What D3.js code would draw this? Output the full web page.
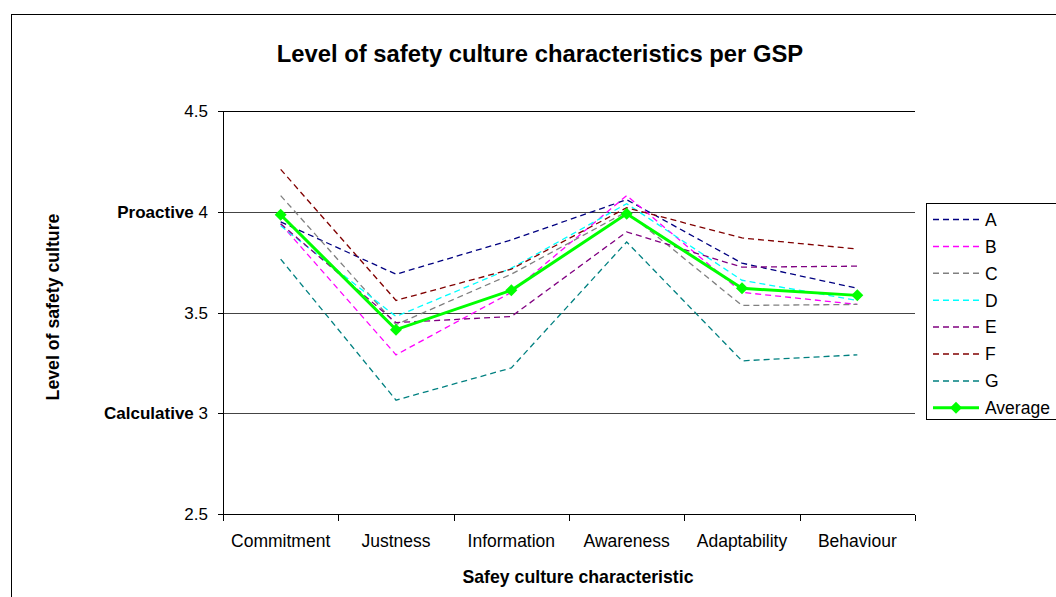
<!DOCTYPE html>
<html>
<head>
<meta charset="utf-8">
<script src="https://cdn.jsdelivr.net/npm/d3@7"></script>
<style>
  html, body { margin: 0; padding: 0; background: #fff; }
  svg { display: block; font-family: "Liberation Sans", Arial, sans-serif; }
</style>
</head>
<body>
<svg id="chart" width="1056" height="597"></svg>
<script>
// ---- Data ----
const categories = ["Commitment", "Justness", "Information", "Awareness", "Adaptability", "Behaviour"];
const seriesNames = ["A", "B", "C", "D", "E", "F", "G"];
const A = [3.95, 3.69, 3.86, 4.06, 3.745, 3.62];
const B = [3.94, 3.29, 3.60, 4.08, 3.60, 3.54];
const C = [4.08, 3.44, 3.69, 4.00, 3.535, 3.54];
const D = [3.93, 3.48, 3.72, 4.04, 3.66, 3.56];
const E = [3.94, 3.45, 3.48, 3.90, 3.725, 3.73];
const F = [4.21, 3.56, 3.715, 4.02, 3.87, 3.815];
const G = [3.765, 3.065, 3.225, 3.85, 3.26, 3.29];
const Average = [3.985, 3.415, 3.61, 3.99, 3.62, 3.585];
const yTicks = [2.5, 3, 3.5, 4, 4.5];
const yTickPrefix = {3: "Calculative", 4: "Proactive"};
const colors = ["#000080", "#ff00ff", "#808080", "#00ffff", "#800080", "#800000", "#008080"];
const avgColor = "#00ff00";
const seriesValues = [A, B, C, D, E, F, G];

// ---- Layout ----
const svg = d3.select("#chart");
const plot = {left: 223, right: 915, top: 111, bottom: 514};

// outer chart frame (extends beyond window)
svg.append("rect").attr("x", 11.5).attr("y", 14.5).attr("width", 1100).attr("height", 700)
  .attr("fill", "none").attr("stroke", "#000").attr("stroke-width", 1);

const x = d3.scalePoint().domain(categories).range([plot.left, plot.right]).padding(0.5);
const xBand = d3.scaleBand().domain(categories).range([plot.left, plot.right]);
const y = d3.scaleLinear().domain([2.5, 4.5]).range([plot.bottom, plot.top]);

// gridlines
svg.append("g").selectAll("line").data(yTicks.filter(t => t > 2.5)).join("line")
  .attr("x1", plot.left).attr("x2", plot.right)
  .attr("y1", d => Math.round(y(d)) + 0.5).attr("y2", d => Math.round(y(d)) + 0.5)
  .attr("stroke", d => d === 4.5 ? "#000" : "#444").attr("stroke-width", 1).attr("shape-rendering", "crispEdges");

// y axis
const yAxis = d3.axisLeft(y).tickValues(yTicks).tickSize(6).tickFormat(() => "");
const gy = svg.append("g").attr("transform", `translate(${plot.left + 0.5},0.5)`).call(yAxis);
gy.selectAll("path, line").attr("stroke", "#000").attr("shape-rendering", "crispEdges");
gy.select(".domain").attr("d", `M0,${Math.round(y(2.5))}V${Math.round(y(4.5))}`);
gy.selectAll(".tick").attr("transform", d => `translate(0,${Math.round(y(d))})`);

// y tick labels
const yl = svg.append("g");
yTicks.forEach(t => {
  const txt = yl.append("text").attr("x", 208).attr("y", y(t)).attr("dy", "0.36em")
    .attr("text-anchor", "end").attr("font-size", 17).attr("fill", "#000");
  if (yTickPrefix[t]) {
    txt.append("tspan").attr("font-weight", "bold").text(yTickPrefix[t] + " ");
  }
  txt.append("tspan").text(d3.format("")(t));
});

// x axis
const gx = svg.append("g").attr("transform", `translate(0,${Math.round(y(2.5)) + 0.5})`);
gx.append("line").attr("x1", plot.left).attr("x2", plot.right).attr("stroke", "#000")
  .attr("shape-rendering", "crispEdges");
const bounds = categories.map(c => xBand(c)).concat([plot.right]);
gx.selectAll("line.tk").data(bounds).join("line").attr("class", "tk")
  .attr("x1", d => Math.round(d) + 0.5).attr("x2", d => Math.round(d) + 0.5)
  .attr("y1", 0).attr("y2", 6).attr("stroke", "#000").attr("shape-rendering", "crispEdges");
gx.selectAll("text").data(categories).join("text")
  .attr("x", d => x(d)).attr("y", 32).attr("text-anchor", "middle")
  .attr("font-size", 17.5).attr("fill", "#000").text(d => d);

// series lines
const line = d3.line().x((d, i) => x(categories[i])).y(d => y(d));
seriesValues.forEach((vals, k) => {
  svg.append("path").datum(vals).attr("d", line)
    .attr("fill", "none").attr("stroke", colors[k]).attr("stroke-width", 1.3)
    .attr("stroke-dasharray", "6,4");
});
svg.append("path").datum(Average).attr("d", line)
  .attr("fill", "none").attr("stroke", avgColor).attr("stroke-width", 3);
const diamond = d3.symbol().type(d3.symbolSquare).size(72);
svg.append("g").selectAll("path").data(Average).join("path")
  .attr("d", diamond())
  .attr("transform", (d, i) => `translate(${x(categories[i])},${y(d)}) rotate(45)`)
  .attr("fill", avgColor);

// title
svg.append("text").attr("x", 540).attr("y", 62).attr("text-anchor", "middle")
  .attr("font-size", 23.8).attr("font-weight", "bold").attr("fill", "#000")
  .text("Level of safety culture characteristics per GSP");

// axis titles
svg.append("text").attr("x", 578).attr("y", 583).attr("text-anchor", "middle")
  .attr("font-size", 17.7).attr("font-weight", "bold").attr("fill", "#000")
  .text("Safey culture characteristic");
svg.append("text").attr("transform", "translate(59,307) rotate(-90)").attr("text-anchor", "middle")
  .attr("font-size", 17.7).attr("font-weight", "bold").attr("fill", "#000")
  .text("Level of safety culture");

// legend
const lg = svg.append("g");
lg.append("rect").attr("x", 926.5).attr("y", 203.5).attr("width", 200).attr("height", 216)
  .attr("fill", "#fff").attr("stroke", "#000").attr("stroke-width", 1);
const legendItems = seriesNames.map((n, i) => ({name: n, color: colors[i], avg: false}))
  .concat([{name: "Average", color: avgColor, avg: true}]);
legendItems.forEach((it, i) => {
  const ly = 219.5 + i * 26.9;
  lg.append("line").attr("x1", 933).attr("x2", 979).attr("y1", ly).attr("y2", ly)
    .attr("stroke", it.color).attr("stroke-width", it.avg ? 3 : 1.5)
    .attr("stroke-dasharray", it.avg ? null : "6,4");
  if (it.avg) {
    lg.append("path").attr("d", diamond())
      .attr("transform", `translate(956,${ly}) rotate(45)`).attr("fill", avgColor);
  }
  lg.append("text").attr("x", 985).attr("y", ly).attr("dy", "0.36em")
    .attr("font-size", 17.5).attr("fill", "#000").text(it.name);
});
</script>
</body>
</html>
